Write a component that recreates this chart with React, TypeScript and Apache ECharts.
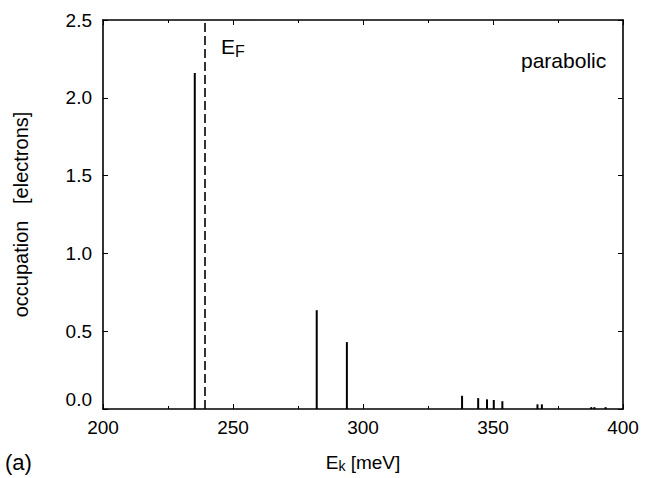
import React, { useEffect, useRef } from "react";
import * as echarts from "echarts";

const energies = [235.3, 282.2, 293.8, 338.1, 344.3, 347.7, 350.3, 353.6, 367.1, 368.8, 387.8, 389.0, 393.3];
const occupations = [2.16, 0.635, 0.43, 0.085, 0.07, 0.062, 0.058, 0.05, 0.03, 0.03, 0.012, 0.012, 0.012];
const fermiEnergy = 239.3;
const xTicks = [200, 250, 300, 350, 400];
const yTicks = [0, 0.5, 1.0, 1.5, 2.0, 2.5];

const FONT = "'Liberation Sans', Arial, Helvetica, sans-serif";

export default function App() {
  const ref = useRef<HTMLDivElement>(null);
  useEffect(() => {
    if (!ref.current) return;
    const chart = echarts.init(ref.current, null, { renderer: "svg" });
    const axisLine = { show: true, onZero: false, lineStyle: { color: "#000", width: 1.6 } };
    const xCommon = {
      type: "value" as const,
      min: xTicks[0],
      max: xTicks[xTicks.length - 1],
      interval: 50,
      splitLine: { show: false },
      axisLine,
      axisTick: { show: true, inside: true, length: 5, lineStyle: { color: "#000", width: 1 } },
      minorTick: { show: true, splitNumber: 2, length: 3, lineStyle: { color: "#000", width: 1 } },
    };
    const yCommon = {
      type: "value" as const,
      min: yTicks[0],
      max: yTicks[yTicks.length - 1],
      interval: 0.5,
      splitLine: { show: false },
      axisLine,
      axisTick: { show: true, inside: true, length: 5, lineStyle: { color: "#000", width: 1 } },
    };
    chart.setOption({
      animation: false,
      backgroundColor: "#fff",
      textStyle: { fontFamily: FONT, color: "#000" },
      grid: { left: 103, right: 33, top: 20, bottom: 69, containLabel: false, outerBoundsMode: "none" },
      xAxis: [
        {
          ...xCommon,
          position: "bottom",
          axisLabel: { color: "#000", fontSize: 19, fontFamily: FONT, margin: 9 },
          name: "{e|E}{s|k}{e| [meV]}",
          nameLocation: "middle",
          nameGap: 42,
          nameTextStyle: {
            color: "#000",
            fontFamily: FONT,
            rich: {
              e: { fontSize: 19, fontFamily: FONT, color: "#000" },
              s: { fontSize: 14, fontFamily: FONT, color: "#000", padding: [8, 0, 0, 0] },
            },
          },
        },
        {
          ...xCommon,
          position: "top",
          axisLabel: { show: false },
        },
      ],
      yAxis: [
        {
          ...yCommon,
          position: "left",
          axisLabel: {
            color: "#000",
            fontSize: 19,
            fontFamily: FONT,
            margin: 11,
            formatter: (v: number) => (v === 0 ? "{z|0.0}" : v.toFixed(1)),
            rich: { z: { fontSize: 19, fontFamily: FONT, color: "#000", padding: [0, 0, 19, 0] } },
          },
          name: "occupation   [electrons]",
          nameLocation: "middle",
          nameGap: 72,
          nameTextStyle: { color: "#000", fontSize: 20, fontFamily: FONT },
        },
        {
          ...yCommon,
          position: "right",
          axisLabel: { show: false },
        },
      ],
      series: [
        {
          type: "bar",
          xAxisIndex: 0,
          yAxisIndex: 0,
          barWidth: 2,
          itemStyle: { color: "#000" },
          data: energies.map((e, i) => [e, occupations[i]]),
          markLine: {
            symbol: "none",
            silent: true,
            label: { show: false },
            lineStyle: { color: "#000", type: [9, 4], width: 1.6 },
            data: [{ xAxis: fermiEnergy }],
          },
        },
      ],
      graphic: [
        {
          type: "text",
          left: 221,
          top: 36,
          style: {
            text: "{e|E}{s|F}",
            rich: {
              e: { fontSize: 21, fontFamily: FONT, fill: "#000" },
              s: { fontSize: 16, fontFamily: FONT, fill: "#000", padding: [10, 0, 0, 0] },
            },
          },
        },
        {
          type: "text",
          left: 521,
          top: 50,
          style: { text: "parabolic", fontSize: 21, fontFamily: FONT, fill: "#000" },
        },
        {
          type: "text",
          left: 5,
          top: 451,
          style: { text: "(a)", fontSize: 22, fontFamily: FONT, fill: "#000" },
        },
      ],
    });
    return () => chart.dispose();
  }, []);
  return (
    <div
      ref={ref}
      style={{ position: "absolute", left: 0, top: 0, width: 656, height: 478, background: "#fff" }}
    />
  );
}
